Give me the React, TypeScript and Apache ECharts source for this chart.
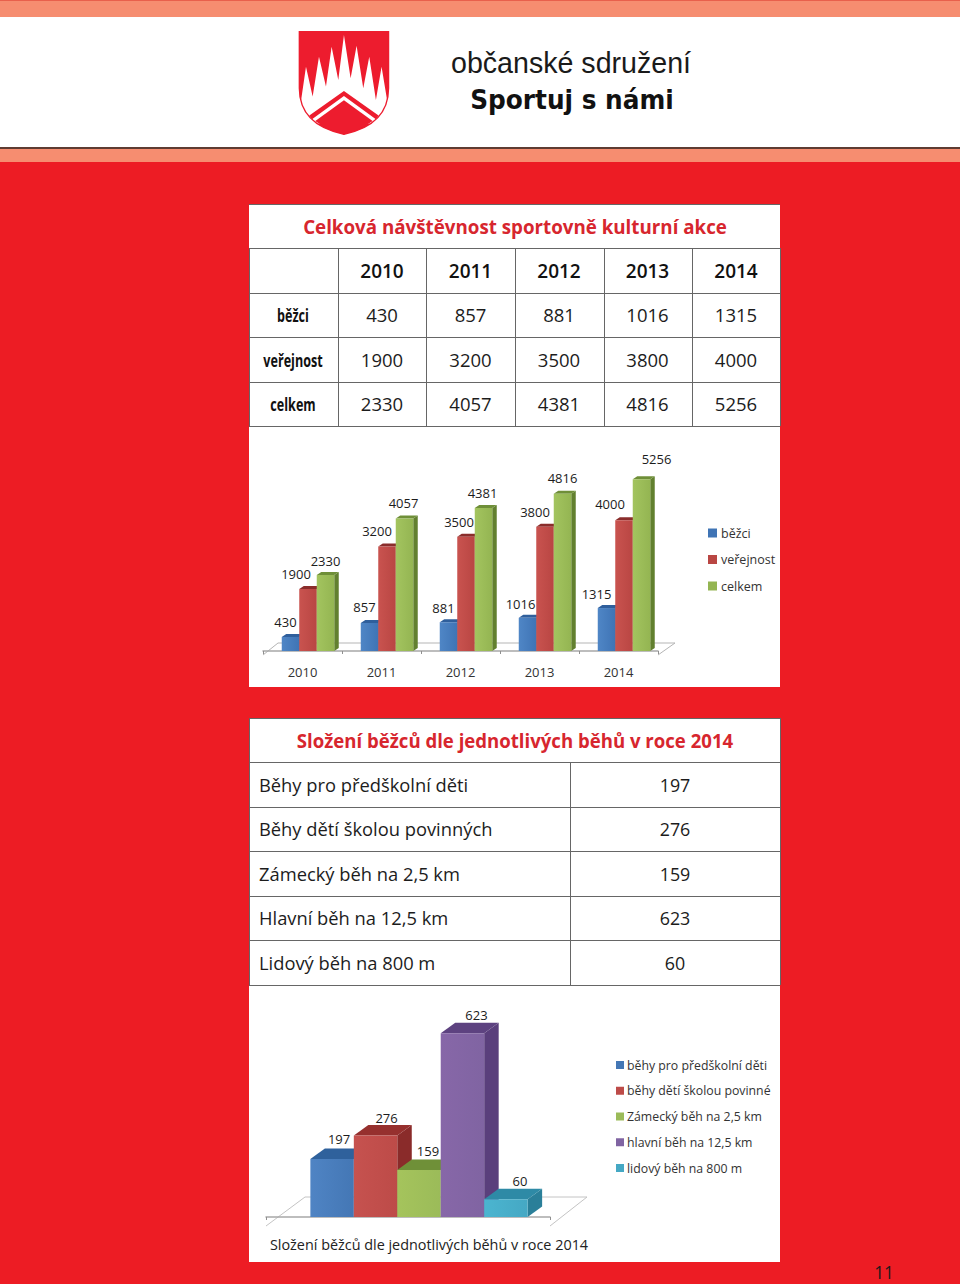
import React, { useEffect, useRef } from "react";
import * as echarts from "echarts";

const years = ["2010", "2011", "2012", "2013", "2014"];
const runners = [430, 857, 881, 1016, 1315];
const publicVisitors = [1900, 3200, 3500, 3800, 4000];
const totals = [2330, 4057, 4381, 4816, 5256];
const rowNames = ["běžci", "veřejnost", "celkem"];

const title1 = "Celková návštěvnost sportovně kulturní akce";
const title2 = "Složení běžců dle jednotlivých běhů v roce 2014";
const raceNames = ["Běhy pro předškolní děti", "Běhy dětí školou povinných", "Zámecký běh na 2,5 km", "Hlavní běh na 12,5 km", "Lidový běh na 800 m"];
const raceLegend = ["běhy pro předškolní děti", "běhy dětí školou povinné", "Zámecký běh na 2,5 km", "hlavní běh na 12,5 km", "lidový běh na 800 m"];
const raceValues = [197, 276, 159, 623, 60];

const FONT = "'Open Sans'";
const RED = "#ed1c24";
const LINE = "#666666";

// [front light, front dark, side, cap]
const c1 = [
  ["#4f86c6", "#3f74b5", "#2b5589", "#2f5f9c"],
  ["#c9534f", "#b94643", "#7f2b29", "#8a2d2b"],
  ["#a3c45f", "#94b552", "#62802f", "#6f8f38"],
];
const c2 = [
  ["#4f84c4", "#4477b5", "#2c5a94", "#2f619c"],
  ["#c6524f", "#bd4b48", "#8a2b2a", "#96302e"],
  ["#a5c45c", "#9bbb59", "#6b8a35", "#6f9038"],
  ["#8767a8", "#8064a2", "#5a3f7c", "#5d4280"],
  ["#4bb5d0", "#45a8c4", "#2a7f99", "#2e8aa6"],
];

// label nudges relative to the bar's top centre, in pixels
const nudge1 = [
  [[-5, -15], [-5, -16], [-5, -14], [-7, -14], [-10, -14]],
  [[-12, -15], [-10, -15], [-7, -15], [-10, -15], [-14, -16]],
  [[0, -14], [-1, -15], [-1, -15], [0, -16], [15, -20]],
];
const nudge2 = [[7, -20], [11, -18], [9, -19], [14, -18], [14, -18]];

function bar3d(api: any, x0: number, w: number, dx: number, dy: number, v: number, cols: string[], label: string, n: number[], fs: number) {
  const top = api.coord([0, v])[1];
  const bot = api.coord([0, 0])[1];
  const x1 = x0 + w;
  return {
    type: "group",
    children: [
      { type: "polygon", shape: { points: [[x1, top], [x1 + dx, top - dy], [x1 + dx, bot - dy], [x1, bot]] }, style: { fill: cols[2] } },
      { type: "polygon", shape: { points: [[x0, top], [x0 + dx, top - dy], [x1 + dx, top - dy], [x1, top]] }, style: { fill: cols[3] } },
      {
        type: "rect",
        shape: { x: x0, y: top, width: w, height: bot - top },
        style: {
          fill: { type: "linear", x: 0, y: 0, x2: 1, y2: 0, colorStops: [{ offset: 0, color: cols[0] }, { offset: 1, color: cols[1] }] },
        },
      },
      {
        type: "text",
        z2: 100,
        style: {
          text: label,
          x: x0 + w / 2 + n[0],
          y: top + n[1],
          textAlign: "center",
          textVerticalAlign: "middle",
          fontFamily: FONT,
          fontSize: fs,
          fill: "#1c1c1c",
        },
      },
    ],
  };
}

function series1(name: string, values: number[], idx: number) {
  return {
    type: "custom",
    name,
    xAxisIndex: 0,
    yAxisIndex: 0,
    z: 10,
    itemStyle: { color: c1[idx][1] },
    data: values.map((v, i) => [i, v]),
    renderItem: (_p: any, api: any) => {
      const i = api.value(0);
      const v = api.value(1);
      const cx = api.coord([i, 0])[0];
      const w = api.size([1, 0])[0] * 0.2215;
      const x0 = cx + 5.5 - 1.5 * w + idx * w;
      return bar3d(api, x0, w, 4.5, 3, v, c1[idx], String(v), nudge1[idx][i], 13);
    },
  };
}

function series2(name: string, value: number, idx: number) {
  return {
    type: "custom",
    name,
    xAxisIndex: 1,
    yAxisIndex: 1,
    z: 10,
    itemStyle: { color: c2[idx][1] },
    data: [[0, value]],
    renderItem: (_p: any, api: any) => {
      const v = api.value(1);
      const cx = api.coord([0, 0])[0];
      const w = api.size([1, 0])[0] * 0.153;
      const x0 = cx + 11 - 2.5 * w + idx * w;
      return {
        ...bar3d(
          { coord: (p: number[]) => api.coord([0, p[1]]) },
          x0, w, 14.5, 10.5, v, c2[idx], String(v), nudge2[idx], 13,
        ),
      };
    },
  };
}

const shieldPath = "M28 20 L296 20 L296 190 Q296 300 162 328 Q28 300 28 190 Z";
echarts.graphic.registerShape("shield", echarts.graphic.extendPath(shieldPath, {}) as any);
echarts.graphic.registerShape("shieldBase", echarts.graphic.extendPath("M162 226 L248 288 Q205 320 162 328 Q118 320 76 288 Z", {}) as any);

function rect(x: number, y: number, w: number, h: number, fill: string) {
  return { type: "rect", z: -10, shape: { x, y, width: w, height: h }, style: { fill } };
}
function ln(x1: number, y1: number, x2: number, y2: number, stroke = LINE, lineWidth = 1) {
  return { type: "line", z: -5, shape: { x1, y1, x2, y2 }, style: { stroke, lineWidth } };
}
function txt(text: string, x: number, y: number, fontSize: number, fill: string, opts: any = {}) {
  const { scaleX, fontWeight, textAlign, fontFamily } = opts;
  return {
    type: "text",
    z: -1,
    x,
    y,
    scaleX: scaleX ?? 1,
    style: {
      text,
      x: 0,
      y: 0,
      fill,
      fontSize,
      fontWeight: fontWeight ?? "normal",
      fontFamily: fontFamily ?? FONT,
      textAlign: textAlign ?? "center",
      textVerticalAlign: "middle",
    },
  };
}

const colX = [249, 338, 426, 515, 604, 692, 780];
const colC = [382, 470.5, 559, 647.5, 736];
const rows1 = [248, 293, 337, 382, 426];
const rowC1 = [315.5, 360, 404.5];
const rows2 = [762, 807, 851, 896, 940, 985];
const rowC2 = [784, 828.5, 873, 917.5, 962];

function graphics() {
  const table1 = [runners, publicVisitors, totals];
  const els: any[] = [
    rect(0, 0, 960, 1, "#e8604c"),
    rect(0, 1, 960, 16, "#f68d70"),
    rect(0, 17, 960, 130, "#ffffff"),
    rect(0, 147, 960, 2, "#5e3b32"),
    rect(0, 149, 960, 13, "#f68d70"),
    rect(249, 204, 531, 483, "#ffffff"),
    rect(249, 718, 531, 544, "#ffffff"),
    // logo
    {
      type: "group",
      x: 290,
      y: 25,
      scaleX: 1 / 3,
      scaleY: 1 / 3,
      z: -4,
      children: [
        { type: "shield", style: { fill: "#ed1c2e" } },
        {
          type: "polygon",
          shape: {
            points: [[33, 228], [48, 125], [68, 215], [87, 95], [108, 185], [125, 65], [145, 165], [162, 30], [182, 160], [200, 62], [220, 190], [238, 95], [258, 225], [275, 125], [292, 228], [290, 245], [262, 292], [162, 310], [62, 292], [34, 245]],
          },
          style: { fill: "#ffffff" },
        },
        { type: "polygon", shape: { points: [[162, 198], [266, 272], [258, 283], [162, 213], [66, 283], [58, 272]] }, style: { fill: "#ed1c2e" } },
        { type: "shieldBase", style: { fill: "#ed1c2e" } },
        { type: "shield", style: { fill: "none", stroke: "#ed1c2e", lineWidth: 4 } },
      ],
    },
    txt("občanské sdružení", 571, 63, 28.6, "#1a1a1a", { fontFamily: "'Liberation Sans'" }),
    txt("Sportuj s námi", 572, 100, 26, "#111111", { fontFamily: "'DejaVu Sans'", fontWeight: "bold", scaleX: 0.954 }),
    txt(title1, 515, 226, 20, "#d7262e", { fontWeight: "bold", scaleX: 0.938 }),
    txt(title2, 515, 740, 20, "#d7262e", { fontWeight: "bold", scaleX: 0.93 }),
    txt("11", 884, 1272, 19, "#1a1a1a", { scaleX: 0.9 }),
  ];
  // table 1 rules
  rows1.forEach((y) => els.push(ln(249, y + 0.5, 780, y + 0.5)));
  els.push(ln(249, 204.5, 780, 204.5));
  colX.forEach((x) => els.push(ln(x + 0.5, 248, x + 0.5, 426)));
  years.forEach((y, i) => els.push(txt(y, colC[i], 271, 19, "#111111", { fontWeight: 600 })));
  rowNames.forEach((n, r) => {
    els.push(txt(n, 293, rowC1[r], 17, "#111111", { fontWeight: "bold", scaleX: 0.74 }));
    table1[r].forEach((v, i) => els.push(txt(String(v), colC[i], rowC1[r] - 0.8, 18.5, "#1c1c1c")));
  });
  // table 2 rules
  rows2.forEach((y) => els.push(ln(249, y + 0.5, 780, y + 0.5)));
  els.push(ln(249, 718.5, 780, 718.5));
  [249, 780].forEach((x) => els.push(ln(x + 0.5, 718, x + 0.5, 985)));
  els.push(ln(570.5, 762, 570.5, 985));
  raceNames.forEach((n, r) => {
    els.push(txt(n, 259, rowC2[r], 19, "#1c1c1c", { textAlign: "left", scaleX: 0.965 }));
    els.push(txt(String(raceValues[r]), 675, rowC2[r], 19, "#1c1c1c", { scaleX: 0.94 }));
  });
  // chart floors
  els.push({ type: "polyline", z: -3, shape: { points: [[263, 655], [278, 643], [675, 643], [658, 655]] }, style: { stroke: "#b5b5b5", lineWidth: 1, fill: "none" } });
  els.push({ type: "polyline", z: -3, shape: { points: [[266, 1226], [305, 1197], [587, 1197], [550, 1226]] }, style: { stroke: "#c4c4c4", lineWidth: 1, fill: "none" } });
  return els;
}

export default function App() {
  const ref = useRef<HTMLDivElement>(null);
  useEffect(() => {
    document.body.style.margin = "0";
    const chart = echarts.init(ref.current!, undefined, { renderer: "svg" });
    const axisCommon = {
      type: "category",
      position: "bottom",
      z: 5,
      axisLine: { lineStyle: { color: "#a8a8a8", width: 1.5 } },
      axisTick: { show: true, length: 3, lineStyle: { color: "#8f8f8f" } },
    };
    chart.setOption({
      animation: false,
      backgroundColor: RED,
      graphic: { elements: graphics() },
      grid: [
        { left: 263, width: 395, top: 455, height: 196 },
        { left: 266, width: 284, top: 1010.5, height: 206.5 },
      ],
      xAxis: [
        {
          ...axisCommon,
          gridIndex: 0,
          offset: 4,
          data: years,
          axisLabel: { margin: 10, interval: 0, fontFamily: FONT, fontSize: 13, color: "#333" },
        },
        {
          ...axisCommon,
          gridIndex: 1,
          offset: 9,
          data: [title2],
          axisLabel: { margin: 11, interval: 0, fontFamily: FONT, fontSize: 14.4, color: "#222", padding: [0, 0, 0, 42] },
        },
      ],
      yAxis: [
        { type: "value", gridIndex: 0, min: 0, max: 6000, show: false },
        { type: "value", gridIndex: 1, min: 0, max: 700, show: false },
      ],
      legend: [
        {
          data: rowNames,
          orient: "vertical",
          left: 708,
          top: 525,
          padding: 0,
          itemGap: 10.5,
          itemWidth: 9,
          itemHeight: 9,
          icon: "rect",
          selectedMode: false,
          textStyle: { fontFamily: FONT, fontSize: 12.5, lineHeight: 16, color: "#333", padding: [0, 0, 0, -1] },
        },
        {
          data: raceLegend,
          orient: "vertical",
          left: 616,
          top: 1057,
          padding: 0,
          itemGap: 9.75,
          itemWidth: 8,
          itemHeight: 8,
          icon: "rect",
          selectedMode: false,
          textStyle: { fontFamily: FONT, fontSize: 12.3, lineHeight: 16, color: "#333", padding: [0, 0, 0, -2] },
        },
      ],
      series: [
        series1(rowNames[0], runners, 0),
        series1(rowNames[1], publicVisitors, 1),
        series1(rowNames[2], totals, 2),
        ...raceValues.map((v, i) => series2(raceLegend[i], v, i)),
      ],
    });
    return () => chart.dispose();
  }, []);
  return <div ref={ref} style={{ position: "absolute", left: 0, top: 0, width: 960, height: 1284 }} />;
}
